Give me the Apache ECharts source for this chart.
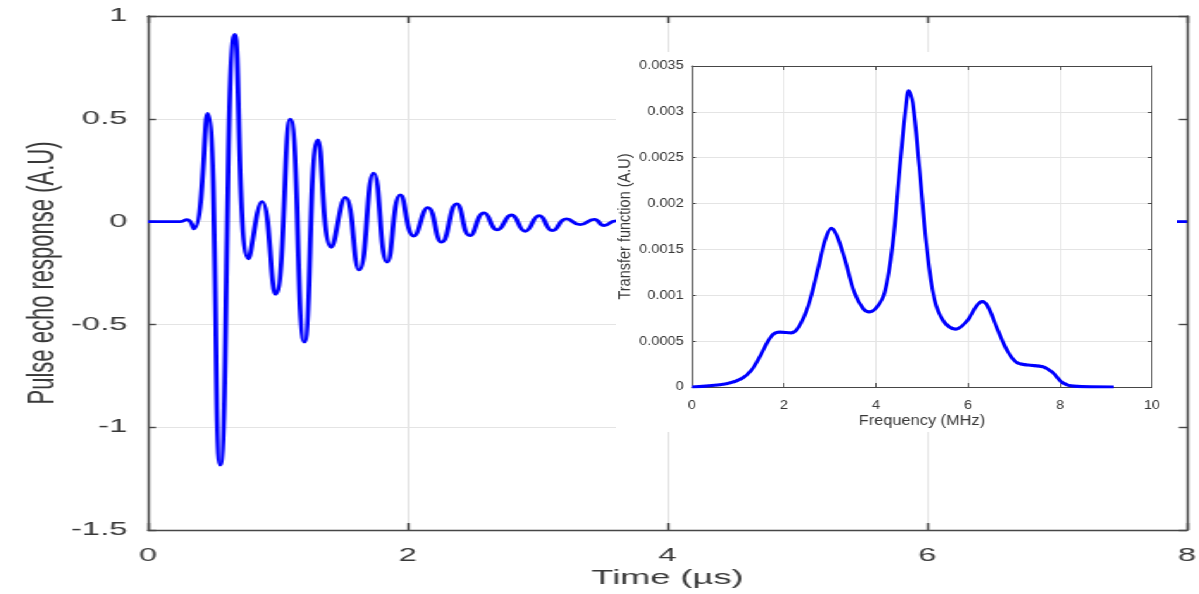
<!DOCTYPE html>
<html>
<head>
<meta charset="utf-8">
<script src="https://cdn.jsdelivr.net/npm/echarts@6/dist/echarts.min.js"></script>
<style>
  html, body { margin: 0; padding: 0; background: #fff; overflow: hidden; }
  /* Both figures are drawn on narrow canvases and widened horizontally */
  #main  { position: absolute; left: 0; top: 0; width: 697px; height: 594px;
           transform: scaleX(1.7202); transform-origin: 0 0; }
  #inset { position: absolute; left: 616px; top: 52px; width: 480px; height: 380px;
           transform: scaleX(1.16875); transform-origin: 0 0; background: #fff; }
</style>
</head>
<body>
<div id="main"></div>
<div id="inset"></div>
<script>
// Pulse-echo waveform: turning points of the signal (time in µs, amplitude A.U)
const timeUs = [0, 0.25, 0.30, 0.354, 0.458, 0.556, 0.669, 0.774, 0.877, 0.982,
  1.096, 1.204, 1.309, 1.412, 1.520, 1.626, 1.738, 1.842, 1.944, 2.047,
  2.155, 2.261, 2.377, 2.479, 2.588, 2.690, 2.798, 2.904, 3.012, 3.115,
  3.223, 3.328, 3.436, 3.513, 3.603, 3.70, 8.0];
const echo = [0, 0, 0.01, -0.035, 0.526, -1.184, 0.911, -0.181, 0.097, -0.354,
  0.498, -0.586, 0.397, -0.125, 0.118, -0.235, 0.236, -0.197, 0.130, -0.070,
  0.068, -0.100, 0.086, -0.068, 0.042, -0.040, 0.032, -0.047, 0.029, -0.044,
  0.013, -0.015, 0.011, -0.019, 0.004, 0, 0];

// Transfer function spectrum (frequency in MHz, magnitude A.U)
const freqMHz = [0, 0.75, 1.08, 1.29, 1.49, 1.66, 1.78, 1.91, 2.16, 2.32,
  2.53, 2.74, 2.90, 3.03, 3.15, 3.32, 3.53, 3.73, 3.86, 4.02,
  4.19, 4.36, 4.52, 4.65, 4.71, 4.80, 4.94, 5.10, 5.27, 5.48,
  5.73, 5.98, 6.18, 6.31, 6.43, 6.64, 6.85, 7.05, 7.30, 7.63,
  7.84, 8.05, 8.30, 9.17];
const transfer = [0, 0.000036, 0.000091, 0.000181, 0.000345, 0.000508, 0.00058, 0.000598, 0.000591, 0.000653,
  0.00089, 0.00129, 0.00161, 0.00173, 0.00165, 0.0014, 0.00103, 0.00085, 0.00082, 0.00087,
  0.00103, 0.00154, 0.00241, 0.00306, 0.00323, 0.0031, 0.00241, 0.00154, 0.00096, 0.00071,
  0.00063, 0.00072, 0.00088, 0.00093, 0.00088, 0.00063, 0.0004, 0.00027, 0.00024, 0.00022,
  0.00016, 0.00005, 0.00001, 0];

// Axis ranges: [min, max, step]
const timeAxis = [0, 8, 2];
const echoAxis = [-1.5, 1, 0.5];
const freqAxis = [0, 10, 2];
const transferAxis = [0, 0.0035, 0.0005];

const FONT = '"Liberation Sans", Arial, Helvetica, sans-serif';
const AXIS = '#464646';
const TEXT = '#383838';
const GRID = '#e4e4e4';
const BLUE = '#0000ff';

function frame(pos, range, tickLen, width, color) {
  return {
    type: 'value', position: pos, min: range[0], max: range[1], interval: range[2],
    axisLine: { show: true, onZero: false, lineStyle: { color: color, width: width } },
    axisTick: { show: true, inside: true, length: tickLen, lineStyle: { color: color, width: width } },
    axisLabel: { show: false }, splitLine: { show: false }
  };
}

const main = echarts.init(document.getElementById('main'));
main.setOption({
  animation: false,
  grid: { left: 86, right: 7, top: 16, bottom: 64, outerBoundsMode: 'none' },
  xAxis: [{
    type: 'value', min: timeAxis[0], max: timeAxis[1], interval: timeAxis[2],
    name: 'Time (µs)', nameLocation: 'middle', nameGap: 38, nameMoveOverlap: false,
    nameTextStyle: { fontSize: 21, color: TEXT, fontFamily: FONT },
    axisLine: { onZero: false, lineStyle: { color: AXIS, width: 1.4 } },
    axisTick: { inside: true, length: 7, lineStyle: { color: AXIS, width: 1.4 } },
    axisLabel: { fontSize: 19, color: TEXT, margin: 16, fontFamily: FONT },
    splitLine: { show: true, lineStyle: { color: GRID, width: 1 } }
  }, frame('top', timeAxis, 7, 1.4, AXIS)],
  yAxis: [{
    type: 'value', min: echoAxis[0], max: echoAxis[1], interval: echoAxis[2],
    name: 'Pulse echo response (A.U)', nameLocation: 'middle', nameGap: 50, nameMoveOverlap: false,
    nameTextStyle: { fontSize: 22, color: TEXT, fontFamily: FONT },
    axisLine: { onZero: false, lineStyle: { color: AXIS, width: 1.4 } },
    axisTick: { inside: true, length: 4.7, lineStyle: { color: AXIS, width: 1.4 } },
    axisLabel: { fontSize: 19, color: TEXT, margin: 12, fontFamily: FONT },
    splitLine: { show: true, lineStyle: { color: GRID, width: 1 } }
  }, frame('right', echoAxis, 4.7, 1.4, AXIS)],
  series: [{
    type: 'line', xAxisIndex: 0, yAxisIndex: 0,
    data: timeUs.map((t, i) => [t, echo[i]]),
    showSymbol: false, smooth: 0.5,
    lineStyle: { color: BLUE, width: 2.8 }
  }]
});

const inset = echarts.init(document.getElementById('inset'));
const fmt = v => String(parseFloat(v.toFixed(6)));
inset.setOption({
  animation: false,
  grid: { left: 65, right: 21.4, top: 14, bottom: 45, outerBoundsMode: 'none' },
  xAxis: [{
    type: 'value', min: freqAxis[0], max: freqAxis[1], interval: freqAxis[2],
    name: 'Frequency (MHz)', nameLocation: 'middle', nameGap: 27, nameMoveOverlap: false,
    nameTextStyle: { fontSize: 14, color: TEXT, fontFamily: FONT },
    axisLine: { onZero: false, lineStyle: { color: AXIS, width: 1 } },
    axisTick: { inside: true, length: 4, lineStyle: { color: AXIS, width: 1 } },
    axisLabel: { fontSize: 12.5, color: TEXT, margin: 12, fontFamily: FONT },
    splitLine: { show: true, lineStyle: { color: GRID, width: 1 } }
  }, frame('top', freqAxis, 4, 1, AXIS)],
  yAxis: [{
    type: 'value', min: transferAxis[0], max: transferAxis[1], interval: transferAxis[2],
    name: 'Transfer function (A.U)', nameLocation: 'middle', nameGap: 50, nameMoveOverlap: false,
    nameTextStyle: { fontSize: 14.5, color: TEXT, fontFamily: FONT },
    axisLine: { onZero: false, lineStyle: { color: AXIS, width: 1 } },
    axisTick: { inside: true, length: 3.4, lineStyle: { color: AXIS, width: 1 } },
    axisLabel: { fontSize: 12.5, color: TEXT, margin: 7, fontFamily: FONT, formatter: fmt },
    splitLine: { show: true, lineStyle: { color: GRID, width: 1 } }
  }, frame('right', transferAxis, 3.4, 1, AXIS)],
  series: [{
    type: 'line', xAxisIndex: 0, yAxisIndex: 0,
    data: freqMHz.map((f, i) => [f, transfer[i]]),
    showSymbol: false, smooth: 0.35,
    lineStyle: { color: BLUE, width: 3.2 }
  }]
});
</script>
</body>
</html>
